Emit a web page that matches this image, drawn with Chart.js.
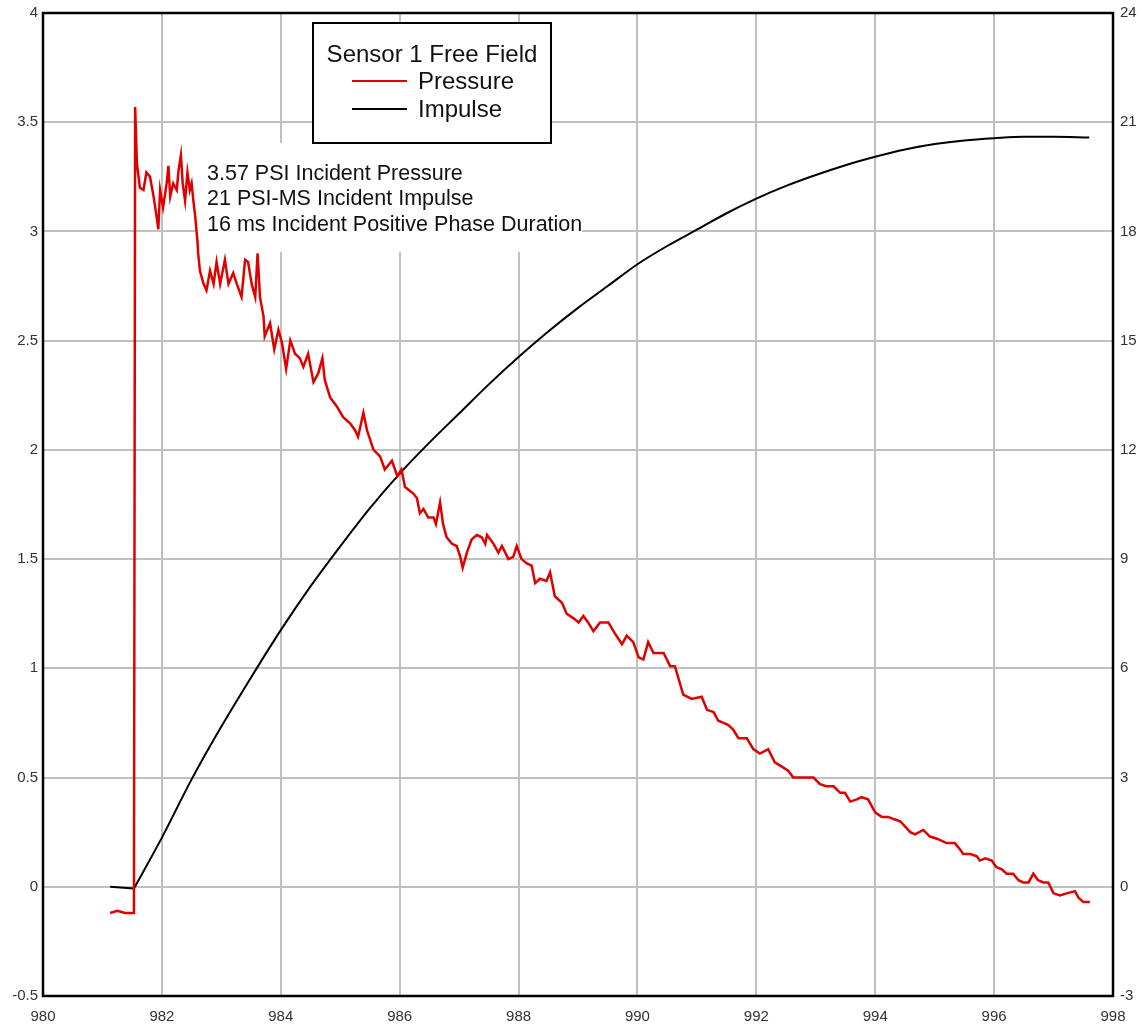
<!DOCTYPE html>
<html>
<head>
<meta charset="utf-8">
<title>Sensor 1 Free Field</title>
<script src="https://cdn.jsdelivr.net/npm/chart.js@4.4.1/dist/chart.umd.min.js"></script>
<style>
  html, body { margin: 0; padding: 0; background: #fff; }
  #wrap { width: 1142px; height: 1028px; position: relative; }
</style>
</head>
<body>
<div id="wrap"><canvas id="blastChart"></canvas></div>
<script>
// time axis (ms) and pressure trace (psi)
const pressureTime = [
  981.13, 981.25, 981.38, 981.53, 981.55, 981.58, 981.63, 981.69, 981.74, 981.80,
  981.86, 981.91, 981.94, 981.97, 982.02, 982.08, 982.11, 982.14, 982.19, 982.25,
  982.28, 982.32, 982.35, 982.39, 982.43, 982.47, 982.50, 982.53, 982.56, 982.60,
  982.61, 982.64, 982.70, 982.75, 982.81, 982.87, 982.92, 982.98, 983.06, 983.12,
  983.20, 983.26, 983.34, 983.40, 983.45, 983.51, 983.57, 983.61, 983.65, 983.71,
  983.73, 983.82, 983.89, 983.96, 984.02, 984.09, 984.16, 984.24, 984.32, 984.38,
  984.46, 984.55, 984.63, 984.70, 984.74, 984.83, 984.94, 985.05, 985.17, 985.25,
  985.30, 985.39, 985.45, 985.56, 985.67, 985.75, 985.87, 985.96, 986.03, 986.09,
  986.23, 986.29, 986.34, 986.40, 986.48, 986.57, 986.61, 986.68, 986.73, 986.79,
  986.88, 986.96, 987.02, 987.06, 987.13, 987.21, 987.30, 987.38, 987.44, 987.47,
  987.58, 987.66, 987.72, 987.83, 987.91, 987.97, 988.05, 988.14, 988.22, 988.28,
  988.36, 988.47, 988.53, 988.61, 988.73, 988.81, 988.92, 989.01, 989.09, 989.17,
  989.26, 989.37, 989.51, 989.62, 989.74, 989.82, 989.93, 990.02, 990.10, 990.18,
  990.27, 990.44, 990.55, 990.63, 990.77, 990.91, 991.08, 991.17, 991.28, 991.36,
  991.45, 991.53, 991.61, 991.70, 991.84, 991.95, 992.06, 992.20, 992.31, 992.43,
  992.54, 992.62, 992.79, 992.96, 993.07, 993.18, 993.30, 993.41, 993.49, 993.58,
  993.69, 993.77, 993.88, 994.00, 994.11, 994.22, 994.31, 994.42, 994.59, 994.67,
  994.81, 994.92, 995.04, 995.20, 995.26, 995.34, 995.43, 995.48, 995.60, 995.71,
  995.76, 995.85, 995.96, 996.04, 996.13, 996.21, 996.32, 996.41, 996.49, 996.58,
  996.66, 996.74, 996.83, 996.91, 997.00, 997.11, 997.22, 997.36, 997.42, 997.50,
  997.61
];
const pressure = [
  -0.12, -0.11, -0.12, -0.12, 3.57, 3.31, 3.20, 3.19, 3.27, 3.25,
  3.16, 3.07, 3.01, 3.19, 3.11, 3.22, 3.30, 3.16, 3.22, 3.19,
  3.28, 3.35, 3.22, 3.14, 3.27, 3.19, 3.22, 3.14, 3.07, 2.95,
  2.90, 2.82, 2.76, 2.73, 2.82, 2.76, 2.86, 2.76, 2.87, 2.76,
  2.81, 2.76, 2.70, 2.87, 2.86, 2.76, 2.70, 2.90, 2.70, 2.61,
  2.52, 2.58, 2.46, 2.55, 2.49, 2.37, 2.50, 2.44, 2.42, 2.38,
  2.44, 2.31, 2.35, 2.42, 2.32, 2.24, 2.20, 2.15, 2.12, 2.09,
  2.06, 2.17, 2.09, 2.00, 1.97, 1.91, 1.95, 1.88, 1.91, 1.83,
  1.80, 1.78, 1.71, 1.73, 1.69, 1.69, 1.66, 1.76, 1.66, 1.60,
  1.57, 1.56, 1.51, 1.46, 1.53, 1.59, 1.61, 1.60, 1.57, 1.61,
  1.57, 1.53, 1.56, 1.50, 1.51, 1.56, 1.50, 1.48, 1.47, 1.39,
  1.41, 1.40, 1.44, 1.33, 1.30, 1.25, 1.23, 1.21, 1.24, 1.21,
  1.17, 1.21, 1.21, 1.16, 1.11, 1.15, 1.12, 1.05, 1.04, 1.12,
  1.07, 1.07, 1.01, 1.01, 0.88, 0.86, 0.87, 0.81, 0.80, 0.76,
  0.75, 0.74, 0.72, 0.68, 0.68, 0.63, 0.61, 0.63, 0.57, 0.55,
  0.53, 0.50, 0.50, 0.50, 0.47, 0.46, 0.46, 0.43, 0.43, 0.39,
  0.40, 0.41, 0.40, 0.34, 0.32, 0.32, 0.31, 0.30, 0.25, 0.24,
  0.26, 0.23, 0.22, 0.20, 0.20, 0.20, 0.17, 0.15, 0.15, 0.14,
  0.12, 0.13, 0.12, 0.09, 0.08, 0.06, 0.06, 0.03, 0.02, 0.02,
  0.06, 0.03, 0.02, 0.02, -0.03, -0.04, -0.03, -0.02, -0.05, -0.07,
  -0.07
];

// cumulative impulse (psi-ms) on the right axis
const impulseTime = [
  981.13, 981.53, 982.0, 982.5, 983.0, 983.5, 984.0, 984.5, 985.0, 985.5,
  986.0, 986.5, 987.0, 987.5, 988.0, 988.5, 989.0, 989.5, 990.0, 990.5,
  991.0, 991.5, 992.0, 992.5, 993.0, 993.5, 994.0, 994.5, 995.0, 995.5,
  996.0, 996.5, 997.0, 997.6
];
const impulse = [
  0, -0.05, 1.35, 2.95, 4.4, 5.75, 7.05, 8.25, 9.35, 10.4,
  11.35, 12.2, 13.0, 13.8, 14.55, 15.25, 15.9, 16.5, 17.1, 17.6,
  18.05, 18.5, 18.9, 19.25, 19.55, 19.82, 20.05, 20.25, 20.4, 20.5,
  20.56, 20.6, 20.6, 20.58
];

const pressureTicks = { min: -0.5, max: 4, step: 0.5 };
const impulseTicks = { min: -3, max: 24, step: 3 };
const timeTicks = { min: 980, max: 998, step: 2 };

const legendTitle = 'Sensor 1 Free Field';
const seriesNames = ['Pressure', 'Impulse'];
const seriesColors = ['#e00000', '#000000'];
const notes = [
  '3.57 PSI Incident Pressure',
  '21 PSI-MS Incident Impulse',
  '16 ms Incident Positive Phase Duration'
];

const FONT = '"Liberation Sans", Arial, sans-serif';
const toPoints = (xs, ys) => xs.map((x, i) => ({ x: x, y: ys[i] }));
const plainNum = v => String(Math.round(v * 100) / 100);

// impulse: flat lead-in before arrival, then the smooth rise
const impulsePoints = toPoints(impulseTime, impulse);
const impulseLead = impulsePoints.slice(0, 2);
const impulseRise = impulsePoints.slice(1);

// white box with the summary lines, sits under the traces
const notesPlugin = {
  id: 'notes',
  beforeDatasetsDraw(chart) {
    const { ctx } = chart;
    ctx.save();
    ctx.fillStyle = '#fff';
    ctx.fillRect(197, 143, 385, 109);
    ctx.font = '21.5px ' + FONT;
    ctx.fillStyle = '#111';
    ctx.textBaseline = 'middle';
    notes.forEach((t, i) => ctx.fillText(t, 207, 174 + i * 25.5));
    ctx.restore();
  }
};

// boxed legend and the black frame round the plot
const framePlugin = {
  id: 'frame',
  afterDraw(chart) {
    const { ctx, chartArea: a } = chart;
    ctx.save();
    const bx = 313, by = 23, bw = 238, bh = 120;
    ctx.fillStyle = '#fff';
    ctx.fillRect(bx, by, bw, bh);
    ctx.lineWidth = 2;
    ctx.strokeStyle = '#000';
    ctx.strokeRect(bx, by, bw, bh);
    ctx.fillStyle = '#111';
    ctx.font = '24px ' + FONT;
    ctx.textBaseline = 'middle';
    ctx.textAlign = 'center';
    ctx.fillText(legendTitle, bx + bw / 2, by + 32);
    ctx.textAlign = 'left';
    seriesNames.forEach((name, i) => {
      const ly = by + 58 + i * 28;
      ctx.strokeStyle = seriesColors[i];
      ctx.lineWidth = 2;
      ctx.beginPath();
      ctx.moveTo(bx + 39, ly);
      ctx.lineTo(bx + 94, ly);
      ctx.stroke();
      ctx.fillStyle = '#111';
      ctx.fillText(name, bx + 105, ly + 1);
    });
    ctx.strokeStyle = '#000';
    ctx.lineWidth = 2.5;
    ctx.strokeRect(a.left, a.top, a.right - a.left, a.bottom - a.top);
    ctx.restore();
  }
};

const tickFont = { family: FONT, size: 15 };

// fixed axis gutters so the plot frame lands where wanted
function fixWidth(w) {
  return s => { s.width = w; s.paddingTop = 0; s.paddingBottom = 0; };
}

new Chart(document.getElementById('blastChart'), {
  type: 'line',
  data: {
    datasets: [
      {
        label: seriesNames[0],
        data: toPoints(pressureTime, pressure),
        borderColor: seriesColors[0],
        borderWidth: 2.5,
        pointRadius: 0,
        tension: 0,
        yAxisID: 'y'
      },
      {
        label: seriesNames[1],
        data: impulseLead,
        borderColor: seriesColors[1],
        borderWidth: 2,
        pointRadius: 0,
        tension: 0,
        yAxisID: 'y1'
      },
      {
        label: seriesNames[1],
        data: impulseRise,
        borderColor: seriesColors[1],
        borderWidth: 2,
        pointRadius: 0,
        cubicInterpolationMode: 'monotone',
        yAxisID: 'y1'
      }
    ]
  },
  options: {
    responsive: true,
    maintainAspectRatio: false,
    animation: false,
    layout: { padding: { top: 13, left: 0, right: 0, bottom: 0 } },
    plugins: {
      legend: { display: false },
      tooltip: { enabled: false }
    },
    scales: {
      x: {
        type: 'linear',
        min: timeTicks.min,
        max: timeTicks.max,
        ticks: { stepSize: timeTicks.step, color: '#333', font: tickFont, padding: 12, callback: plainNum },
        grid: { color: '#c0c0c0', lineWidth: 2, drawTicks: false },
        border: { display: false },
        afterFit(s) { s.height = 32; s.paddingLeft = 0; s.paddingRight = 0; }
      },
      y: {
        position: 'left',
        min: pressureTicks.min,
        max: pressureTicks.max,
        ticks: { stepSize: pressureTicks.step, color: '#333', font: tickFont, padding: 5, callback: plainNum },
        grid: { color: '#c0c0c0', lineWidth: 2, drawTicks: false },
        border: { display: false },
        afterFit: fixWidth(43)
      },
      y1: {
        position: 'right',
        min: impulseTicks.min,
        max: impulseTicks.max,
        ticks: { stepSize: impulseTicks.step, color: '#333', font: tickFont, padding: 7, callback: plainNum },
        grid: { display: false, drawTicks: false },
        border: { display: false },
        afterFit: fixWidth(29)
      }
    }
  },
  plugins: [notesPlugin, framePlugin]
});
</script>
</body>
</html>
